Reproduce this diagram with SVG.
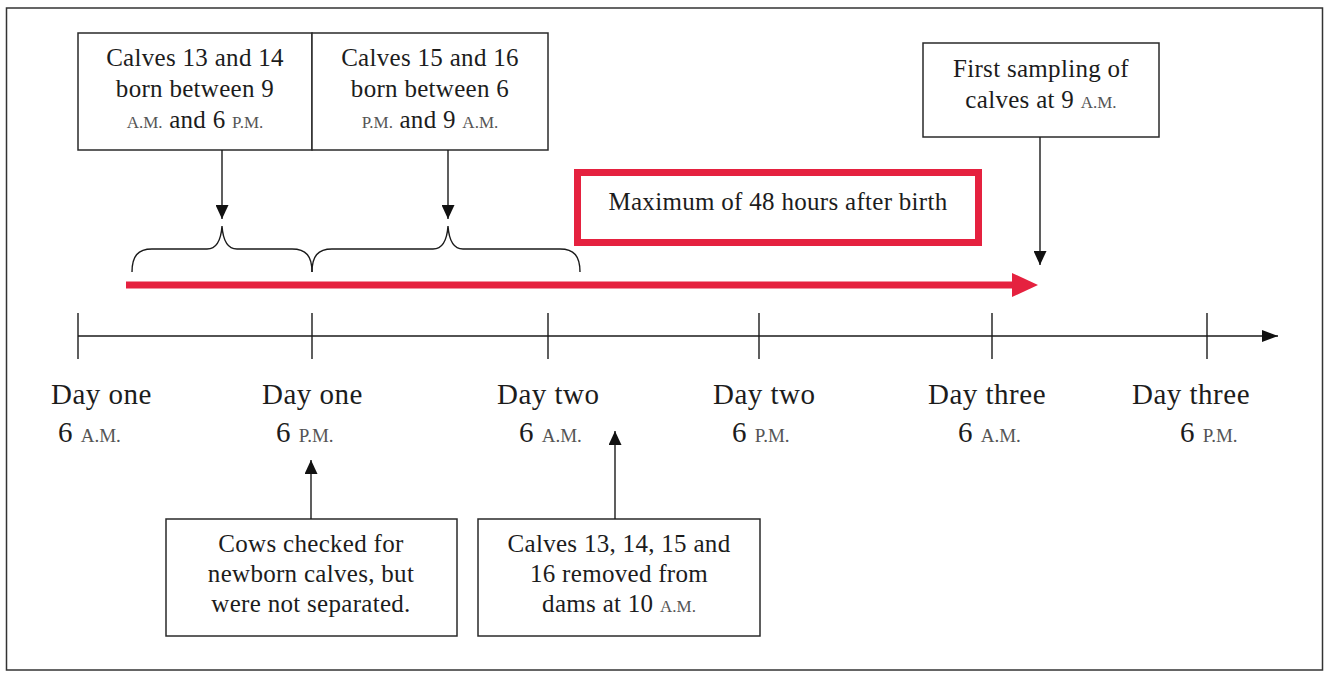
<svg xmlns="http://www.w3.org/2000/svg" width="1327" height="673" viewBox="0 0 1327 673">
  <style>
    .t { font-family: "Liberation Serif", "Times New Roman", serif; font-size: 25px; fill: #1c1c1c; letter-spacing: 0.3px; }
    .c { text-anchor: middle; }
    .sc { font-size: 17px; fill: #555; letter-spacing: 0; }
    .day { font-size: 29px; letter-spacing: 0.5px; }
    .day .sc { font-size: 19px; }
    .box { fill: #fff; stroke: #2a2a2a; stroke-width: 1.5; }
    .frame { fill: #fff; stroke: #333; stroke-width: 1.5; }
    .ln { stroke: #1a1a1a; stroke-width: 1.4; fill: none; }
    .red { fill: none; stroke: #e5213f; stroke-width: 7; }
    .redfill { fill: #e5213f; }
  </style>
  <defs>
    <marker id="ah" viewBox="0 0 14 13" refX="14" refY="6.5" markerWidth="14" markerHeight="13" markerUnits="userSpaceOnUse" orient="auto">
      <path d="M0,0 L14,6.5 L0,13 z" fill="#111"/>
    </marker>
    <marker id="ahT" viewBox="0 0 16 12" refX="16" refY="6" markerWidth="16" markerHeight="12" markerUnits="userSpaceOnUse" orient="auto">
      <path d="M0,0 L16,6 L0,12 z" fill="#111"/>
    </marker>
  </defs>

  <rect class="frame" x="6.5" y="8" width="1316" height="662"/>

  <g id="box-calves-13-14">
    <rect class="box" x="78" y="33" width="234" height="117"/>
    <text class="t c" x="195" y="66">Calves 13 and 14</text>
    <text class="t c" x="195" y="97">born between 9</text>
    <text class="t c" x="195" y="128"><tspan class="sc">A.M.</tspan> and 6 <tspan class="sc">P.M.</tspan></text>
  </g>

  <g id="box-calves-15-16">
    <rect class="box" x="312" y="33" width="236" height="117"/>
    <text class="t c" x="430" y="66">Calves 15 and 16</text>
    <text class="t c" x="430" y="97">born between 6</text>
    <text class="t c" x="430" y="128"><tspan class="sc">P.M.</tspan> and 9 <tspan class="sc">A.M.</tspan></text>
  </g>

  <g id="box-first-sampling">
    <rect class="box" x="923" y="43" width="236" height="94"/>
    <text class="t c" x="1041" y="77">First sampling of</text>
    <text class="t c" x="1041" y="108">calves at 9 <tspan class="sc">A.M.</tspan></text>
  </g>

  <g id="box-maximum-48h">
    <rect class="red" x="577.5" y="172.5" width="401" height="70"/>
    <text class="t c" x="778" y="210">Maximum of 48 hours after birth</text>
  </g>

  <g id="box-cows-checked">
    <rect class="box" x="166" y="519" width="291" height="117"/>
    <text class="t c" x="311" y="552">Cows checked for</text>
    <text class="t c" x="311" y="582">newborn calves, but</text>
    <text class="t c" x="311" y="612">were not separated.</text>
  </g>

  <g id="box-calves-removed">
    <rect class="box" x="478" y="519" width="282" height="117"/>
    <text class="t c" x="619" y="552">Calves 13, 14, 15 and</text>
    <text class="t c" x="619" y="582">16 removed from</text>
    <text class="t c" x="619" y="612">dams at 10 <tspan class="sc">A.M.</tspan></text>
  </g>

  <g id="braces">
    <path class="ln" d="M132,272 C132,256 138,249 152,249 L207,249 C216,249 221,240 222,226 C223,240 228,249 237,249 L292,249 C306,249 312,256 312,272"/>
    <path class="ln" d="M312,272 C312,256 318,249 332,249 L433,249 C442,249 447,240 448,226 C449,240 454,249 463,249 L560,249 C574,249 580,256 580,272"/>
  </g>

  <g id="timeline">
    <line class="ln" x1="78" y1="336" x2="1278" y2="336" marker-end="url(#ahT)"/>
    <line class="ln" x1="78" y1="313" x2="78" y2="359"/>
    <line class="ln" x1="312" y1="313" x2="312" y2="359"/>
    <line class="ln" x1="548" y1="313" x2="548" y2="359"/>
    <line class="ln" x1="759" y1="313" x2="759" y2="359"/>
    <line class="ln" x1="992" y1="313" x2="992" y2="359"/>
    <line class="ln" x1="1207" y1="313" x2="1207" y2="359"/>
  </g>

  <g id="timeline-labels">
    <text class="t day" x="51" y="404">Day one</text>
    <text class="t day" x="58" y="442">6 <tspan class="sc">A.M.</tspan></text>
    <text class="t day" x="262" y="404">Day one</text>
    <text class="t day" x="276" y="442">6 <tspan class="sc">P.M.</tspan></text>
    <text class="t day" x="497" y="404">Day two</text>
    <text class="t day" x="519" y="442">6 <tspan class="sc">A.M.</tspan></text>
    <text class="t day" x="713" y="404">Day two</text>
    <text class="t day" x="732" y="442">6 <tspan class="sc">P.M.</tspan></text>
    <text class="t day" x="928" y="404">Day three</text>
    <text class="t day" x="958" y="442">6 <tspan class="sc">A.M.</tspan></text>
    <text class="t day" x="1132" y="404">Day three</text>
    <text class="t day" x="1180" y="442">6 <tspan class="sc">P.M.</tspan></text>
  </g>

  <g id="connectors">
    <line class="ln" x1="222" y1="150" x2="222" y2="219" marker-end="url(#ah)"/>
    <line class="ln" x1="448" y1="150" x2="448" y2="219" marker-end="url(#ah)"/>
    <line class="ln" x1="1040" y1="137" x2="1040" y2="265" marker-end="url(#ah)"/>
    <line class="ln" x1="311" y1="519" x2="311" y2="460" marker-end="url(#ah)"/>
    <line class="ln" x1="615" y1="519" x2="615" y2="431" marker-end="url(#ah)"/>
    <line class="red" x1="126" y1="285" x2="1016" y2="285"/>
    <polygon class="redfill" points="1012,273 1038,285 1012,297"/>
  </g>
</svg>
